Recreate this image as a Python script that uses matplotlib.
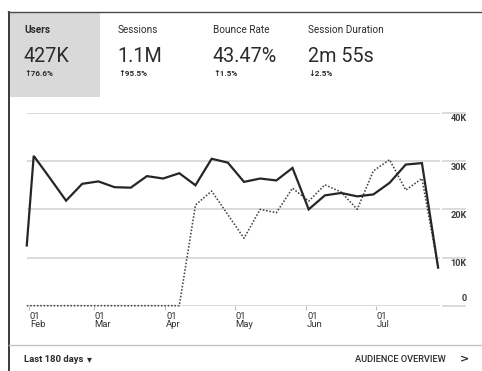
import matplotlib
matplotlib.use("Agg")
import matplotlib.pyplot as plt
import matplotlib.dates as mdates
import matplotlib.transforms as mtransforms
from matplotlib.lines import Line2D
import numpy as np
import datetime as dt

# ---------------- data ----------------
start_date = dt.date(2019, 1, 31)
week_start = dt.date(2019, 2, 3)
end_date = dt.date(2019, 7, 28)
n_weeks = 25
dates = [start_date] + [week_start + dt.timedelta(days=7 * k) for k in range(n_weeks)] + [end_date]

users_current = [12.5, 31.1, 26.5, 21.8, 25.3, 25.8, 24.6, 24.5, 26.9, 26.4, 27.5,
                 25.0, 30.5, 29.7, 25.7, 26.4, 26.0, 28.6, 20.0, 22.9, 23.4, 22.7,
                 23.1, 25.5, 29.3, 29.6, 7.9]
users_previous = [0, 0, 0, 0, 0, 0, 0, 0, 0, 0, 0,
                  20.9, 23.8, 18.9, 14.0, 20.0, 19.3, 24.4, 21.7, 25.1, 23.6, 20.0,
                  28.0, 30.3, 24.0, 26.4, 8.0]

y_ticks = [0, 10000, 20000, 30000, 40000]
y_tick_labels = ["0", "10K", "20K", "30K", "40K"]
x_tick_dates = [dt.date(2019, m, 1) for m in (2, 3, 4, 5, 6, 7)]
x_tick_labels = ["01\nFeb", "01\nMar", "01\nApr", "01\nMay", "01\nJun", "01\nJul"]

metric_names = ["Users", "Sessions", "Bounce Rate", "Session Duration"]
metric_values = ["427K", "1.1M", "43.47%", "2m 55s"]
metric_changes = ["\u219176.6%", "\u219195.5%", "\u21911.5%", "\u21932.5%"]

# ---------------- figure ----------------
W, H = 482, 371
fig = plt.figure(figsize=(W / 100, H / 100), dpi=100)
fig.patch.set_facecolor("white")
FAM = ["Roboto", "DejaVu Sans"]
TXT = "#2b2b2b"


def fx(x):
    return x / W


def fy(y):
    return 1 - y / H


# card borders
fig.add_artist(Line2D([fx(8.5), fx(8.5)], [fy(12), fy(371)], color="#3a3a3a", lw=1.4))
fig.add_artist(Line2D([fx(8), fx(482)], [fy(12), fy(12)], color="#4a4a4a", lw=1.0))
fig.add_artist(Line2D([fx(9), fx(482)], [fy(345), fy(345)], color="#c4c4c4", lw=1.0))

# selected tile background
fig.add_artist(plt.Rectangle((fx(9), fy(97)), fx(100) - fx(9), fy(12.5) - fy(97),
                             facecolor="#d9d9d9", edgecolor="none"))

tile_x = [24, 118, 213, 308]
for i, (nm, val, ch) in enumerate(zip(metric_names, metric_values, metric_changes)):
    fig.text(fx(tile_x[i]), fy(30), nm, family=FAM, fontsize=7.2,
             fontweight="bold" if i == 0 else "normal", color=TXT, va="center", ha="left")
    fig.text(fx(tile_x[i] - 0.5), fy(57), val, family=FAM, fontsize=14.2,
             color=TXT, va="center", ha="left")
    fig.text(fx(tile_x[i]), fy(73), ch, family=FAM, fontsize=5.9, fontweight="bold",
             color=TXT, va="center", ha="left")

# footer
fig.text(fx(24), fy(359), "Last 180 days", family=FAM, fontsize=6.8, fontweight="bold",
         color=TXT, va="center", ha="left")
fig.text(fx(87), fy(359), "\u25BE", family=["DejaVu Sans"], fontsize=7,
         color=TXT, va="center", ha="left")
fig.text(fx(355), fy(359), "AUDIENCE OVERVIEW", family=FAM, fontsize=6.7, fontweight="medium",
         color=TXT, va="center", ha="left")
fig.text(fx(460), fy(359), ">", family=["DejaVu Sans"], fontsize=8, fontweight="bold",
         color=TXT, va="center", ha="left")

# ---------------- chart ----------------
ax_left, ax_right, ax_top, ax_bottom = 27, 439.5, 113, 305.7
ax = fig.add_axes([fx(ax_left), fy(ax_bottom), (ax_right - ax_left) / W, (ax_bottom - ax_top) / H])
ax.set_facecolor("none")
for s in ax.spines.values():
    s.set_visible(False)

xd = mdates.date2num(dates)
ax.set_xlim(mdates.date2num(dt.date(2019, 1, 31)) + 0.1, mdates.date2num(dt.date(2019, 7, 28)) + 0.6)
ax.set_ylim(0, 40000)

for yv in y_ticks:
    ax.axhline(yv, color="#d4d4d4", lw=1.2, zorder=0)

yvals_prev = np.array(users_previous) * 1000
yvals_cur = np.array(users_current) * 1000
ax.plot(xd, yvals_prev, color="#444444", lw=1.15, linestyle=(0, (1, 1.1)), clip_on=False, zorder=2)
ax.plot(xd, yvals_cur, color="#262626", lw=1.6, clip_on=False, zorder=3, solid_joinstyle="miter")

# right-side value labels with short underline segments
blend = mtransforms.blended_transform_factory(ax.transAxes, ax.transData)
x0 = (443 - ax_left) / (ax_right - ax_left)
x1 = (465 - ax_left) / (ax_right - ax_left)
xl = (466.5 - ax_left) / (ax_right - ax_left)
for yv, lab in zip(y_ticks, y_tick_labels):
    ax.plot([x0, x1], [yv, yv], transform=blend, color="#d4d4d4", lw=1.2, clip_on=False)
    if yv == 0:
        ax.annotate(lab, (xl, yv), xycoords=blend, xytext=(0, 2.2), textcoords="offset points",
                    ha="right", va="bottom", family=FAM, fontsize=6.6, fontweight="bold", color="#3c3c3c")
    else:
        ax.annotate(lab, (xl, yv), xycoords=blend, xytext=(0, -1.0), textcoords="offset points",
                    ha="right", va="top", family=FAM, fontsize=6.6, fontweight="bold", color="#3c3c3c")

ax.set_yticks([])
ax.set_xticks(mdates.date2num(x_tick_dates))
ax.set_xticklabels(x_tick_labels, family=FAM, fontsize=6.8, color="#333333",
                   ha="left", linespacing=0.95)
ax.tick_params(axis="x", length=3, width=0.8, color="#bdbdbd", pad=1.3)
offset = mtransforms.ScaledTranslation(0.6 / 72, 0, fig.dpi_scale_trans)
for lbl in ax.get_xticklabels():
    lbl.set_transform(lbl.get_transform() + offset)

fig.savefig("out.png", dpi=100, facecolor="white")
